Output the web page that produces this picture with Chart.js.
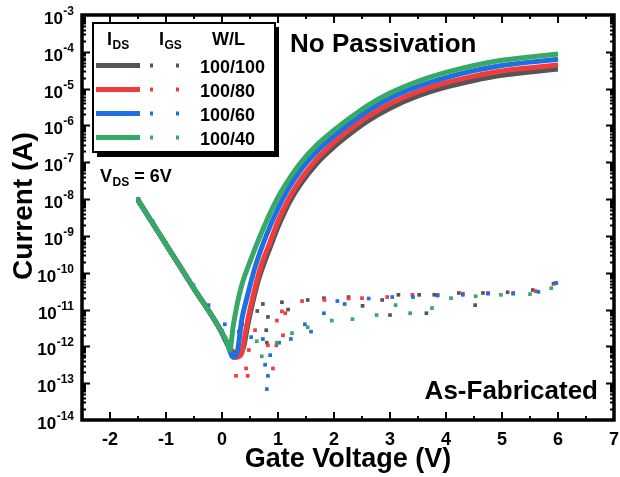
<!DOCTYPE html>
<html><head><meta charset="utf-8">
<script src="https://cdn.jsdelivr.net/npm/chart.js@4.4.1/dist/chart.umd.min.js"></script>
<style>html,body{margin:0;padding:0;background:#fff;}canvas{display:block;}</style>
</head><body>
<canvas id="c" width="620" height="477"></canvas>
<script>
// ---------- data ----------
const seriesNames = ['100/100', '100/80', '100/60', '100/40'];
const seriesColors = ['#555555', '#f23c3c', '#1d6fe3', '#38a865'];
const xTicks = [-2, -1, 0, 1, 2, 3, 4, 5, 6, 7];
const yTickExps = [-3, -4, -5, -6, -7, -8, -9, -10, -11, -12, -13, -14];

// I_DS : gate voltage (V) and log10(current / A)
const idsV_100_100 = [-1.5,-1.0,-0.5,-0.03,0.1,0.25,0.38,0.45,0.55,0.65,0.75,0.85,1.0,1.2,1.4,1.7,2.0,2.3,2.6,3.0,3.5,4.0,4.5,5.0,5.5,6.0];
const idsLog_100_100 = [-8.03,-9.23,-10.43,-11.55,-11.95,-12.2,-12.05,-11.5,-10.8,-10.2,-9.75,-9.35,-8.76,-8.1,-7.6,-7.02,-6.58,-6.21,-5.88,-5.53,-5.2,-4.96,-4.78,-4.64,-4.55,-4.47];
const idsV_100_80 = [-1.5,-1.0,-0.5,-0.03,0.1,0.25,0.35,0.42,0.5,0.6,0.7,0.85,1.0,1.2,1.4,1.7,2.0,2.3,2.6,3.0,3.5,4.0,4.5,5.0,5.5,6.0];
const idsLog_100_80 = [-8.03,-9.23,-10.43,-11.55,-11.95,-12.3,-12.2,-11.6,-11.0,-10.35,-9.8,-9.2,-8.6,-7.97,-7.47,-6.9,-6.46,-6.09,-5.76,-5.41,-5.08,-4.84,-4.66,-4.52,-4.43,-4.36];
const idsV_100_60 = [-1.5,-1.0,-0.5,-0.03,0.1,0.2,0.28,0.35,0.45,0.6,0.8,1.0,1.2,1.4,1.7,2.0,2.3,2.6,3.0,3.5,4.0,4.5,5.0,5.5,6.0];
const idsLog_100_60 = [-8.03,-9.23,-10.43,-11.55,-11.95,-12.3,-12.1,-11.3,-10.65,-9.8,-8.95,-8.25,-7.68,-7.22,-6.7,-6.29,-5.93,-5.61,-5.26,-4.94,-4.7,-4.51,-4.37,-4.28,-4.2];
const idsV_100_40 = [-1.5,-1.0,-0.5,-0.03,0.08,0.14,0.2,0.27,0.35,0.5,0.75,1.0,1.2,1.4,1.7,2.0,2.3,2.6,3.0,3.5,4.0,4.5,5.0,5.5,6.0];
const idsLog_100_40 = [-8.03,-9.23,-10.43,-11.55,-11.85,-12.1,-11.45,-10.86,-10.35,-9.7,-8.75,-7.95,-7.45,-7.02,-6.52,-6.13,-5.78,-5.46,-5.12,-4.8,-4.56,-4.37,-4.23,-4.14,-4.06];

// I_GS : gate voltage (V) and log10(current / A)
const igsV_100_100 = [-1.5,-1.25,-1.0,-0.75,-0.5,-0.25,0.0,0.2,0.3,0.63,0.73,0.79,0.8,0.82,1.07,1.18,1.53,1.82,2.26,2.51,2.86,3.0,3.15,3.52,3.65,3.79,4.23,4.52,4.66,5.1,5.55,5.92];
const igsLog_100_100 = [-8.05,-8.65,-9.25,-9.85,-10.45,-11.0,-11.6,-12.15,-11.6,-11.04,-10.85,-11.56,-11.9,-11.2,-10.8,-11.0,-10.74,-10.69,-10.66,-10.9,-10.74,-11.15,-10.6,-10.6,-11.1,-10.6,-10.55,-10.88,-10.55,-10.53,-10.47,-10.3];
const igsV_100_80 = [-1.5,-1.25,-1.0,-0.75,-0.5,-0.25,0.0,0.25,0.43,0.46,0.48,0.59,0.82,0.91,0.97,0.98,1.07,1.09,1.13,1.43,1.83,2.26,2.5,2.95,3.4,3.85,4.3,4.75,5.2,5.6,5.95];
const igsLog_100_80 = [-8.0,-8.62,-9.22,-9.82,-10.42,-11.0,-11.6,-12.8,-12.6,-12.8,-12.1,-11.56,-11.97,-12.6,-11.97,-11.3,-11.05,-11.7,-11.1,-10.77,-10.74,-10.7,-10.69,-10.66,-10.6,-10.6,-10.57,-10.55,-10.55,-10.5,-10.28];
const igsV_100_60 = [-1.49,-1.24,-1.0,-0.77,-0.51,-0.24,0.05,0.36,0.52,0.73,0.77,0.8,0.82,0.86,1.02,1.23,1.48,1.59,1.82,2.06,2.19,2.62,3.04,3.41,3.85,4.3,4.75,5.2,5.65,5.97];
const igsLog_100_60 = [-8.0,-8.6,-9.2,-9.77,-10.34,-10.88,-11.4,-11.4,-11.75,-11.8,-12.5,-13.16,-12.8,-12.24,-11.9,-11.8,-11.4,-11.6,-11.1,-10.77,-10.85,-10.7,-10.66,-10.66,-10.62,-10.6,-10.57,-10.57,-10.52,-10.28];
const igsV_100_40 = [-1.5,-1.25,-1.0,-0.75,-0.5,-0.25,0.0,0.27,0.41,0.62,0.71,0.98,1.25,1.53,1.96,2.33,2.76,3.1,3.36,3.75,4.09,4.53,4.98,5.5,5.88];
const igsLog_100_40 = [-8.02,-8.62,-9.22,-9.82,-10.42,-11.0,-11.58,-12.27,-11.7,-11.86,-12.27,-11.9,-11.64,-11.48,-11.3,-11.26,-11.15,-10.88,-11.1,-10.96,-10.69,-10.64,-10.6,-10.58,-10.42];

const idsV = [idsV_100_100, idsV_100_80, idsV_100_60, idsV_100_40];
const idsLog = [idsLog_100_100, idsLog_100_80, idsLog_100_60, idsLog_100_40];
const igsV = [igsV_100_100, igsV_100_80, igsV_100_60, igsV_100_40];
const igsLog = [igsLog_100_100, igsLog_100_80, igsLog_100_60, igsLog_100_40];

// ---------- chart ----------
const FONT = "'Liberation Sans', Arial, Helvetica, sans-serif";
const toPts = (vs, ls) => vs.map((v, i) => ({x: v, y: Math.pow(10, ls[i])}));

const datasets = [];
seriesNames.forEach((n, i) => {
  datasets.push({
    label: 'IDS ' + n, data: toPts(idsV[i], idsLog[i]),
    showLine: true, borderColor: seriesColors[i], borderWidth: 5,
    pointRadius: 0, cubicInterpolationMode: 'monotone', fill: false,
    borderCapStyle: 'butt', borderJoinStyle: 'round',
    order: 10 - i
  });
  datasets.push({
    label: 'IGS ' + n, data: toPts(igsV[i], igsLog[i]),
    showLine: false, pointStyle: 'rect', pointRadius: 2.6, pointBorderWidth: 0,
    pointBackgroundColor: seriesColors[i], backgroundColor: seriesColors[i],
    borderColor: seriesColors[i],
    order: 20 - i
  });
});

function drawSub(ctx, x, y, main, sub, size, subSize) {
  ctx.font = `bold ${size}px ${FONT}`;
  ctx.fillText(main, x, y);
  const w = ctx.measureText(main).width;
  ctx.font = `bold ${subSize}px ${FONT}`;
  ctx.fillText(sub, x + w + 0.5, y + 4);
  return x + w + 0.5 + ctx.measureText(sub).width;
}

const decor = {
  id: 'decor',
  afterDraw(chart) {
    const {ctx, chartArea: a, scales: {x, y}} = chart;
    ctx.save();
    ctx.strokeStyle = '#000'; ctx.fillStyle = '#000';
    // x ticks (inward, bottom and top)
    ctx.lineWidth = 2;
    ctx.beginPath();
    for (let k = -4; k <= 13; k++) {
      const v = k / 2;
      if (v <= -2.5 || v >= 7) continue;
      const px = Math.round(x.getPixelForValue(v));
      const len = (k % 2 === 0) ? 8 : 4;
      ctx.moveTo(px, a.bottom); ctx.lineTo(px, a.bottom - len);
      ctx.moveTo(px, a.top); ctx.lineTo(px, a.top + len);
    }
    // y ticks (inward, left and right)
    for (let e = -14; e <= -4; e++) {
      for (let m = 1; m < 10; m++) {
        const val = m * Math.pow(10, e);
        const py = Math.round(y.getPixelForValue(val)) + 0.5;
        const len = m === 1 ? 8 : 4;
        if (m === 1 && e === -14) continue;
        ctx.moveTo(a.left, py); ctx.lineTo(a.left + len, py);
        ctx.moveTo(a.right, py); ctx.lineTo(a.right - len, py);
      }
    }
    ctx.stroke();
    // frame
    ctx.lineWidth = 3.5;
    ctx.strokeRect(a.left, a.top, a.right - a.left, a.bottom - a.top);

    // y tick labels 10^n
    ctx.textAlign = 'left'; ctx.textBaseline = 'alphabetic';
    yTickExps.forEach(e => {
      const py = y.getPixelForValue(Math.pow(10, e));
      const es = String(e);
      ctx.font = `bold 12px ${FONT}`;
      const ew = ctx.measureText(es).width;
      ctx.font = `bold 17px ${FONT}`;
      const bw = ctx.measureText('10').width;
      const right = 74;
      ctx.fillText('10', right - ew - bw - 0.5, py + 9);
      ctx.font = `bold 12px ${FONT}`;
      ctx.fillText(es, right - ew, py);
    });

    // axis titles
    ctx.textAlign = 'center';
    ctx.font = `bold 27px ${FONT}`;
    ctx.fillText('Gate Voltage (V)', 348, 467);
    ctx.save();
    ctx.translate(32, 206);
    ctx.rotate(-Math.PI / 2);
    ctx.font = `bold 28px ${FONT}`;
    ctx.fillText('Current (A)', 0, 0);
    ctx.restore();

    // annotations
    ctx.textAlign = 'left';
    ctx.font = `bold 26px ${FONT}`;
    ctx.fillText('No Passivation', 290, 52);
    ctx.textAlign = 'right';
    ctx.fillText('As-Fabricated', 598, 399);
    ctx.textAlign = 'left';
    const vx = drawSub(ctx, 100, 182, 'V', 'DS', 18, 12);
    ctx.font = `bold 18px ${FONT}`;
    ctx.fillText(' = 6V', vx, 182);

    // legend box with shadow
    ctx.fillStyle = '#000';
    ctx.fillRect(97, 27, 182, 130);
    ctx.fillStyle = '#fff';
    ctx.fillRect(93, 23, 182, 129);
    ctx.lineWidth = 2; ctx.strokeStyle = '#000';
    ctx.strokeRect(93, 23, 182, 129);
    ctx.fillStyle = '#000';
    drawSub(ctx, 107, 45, 'I', 'DS', 18, 12);
    drawSub(ctx, 159, 45, 'I', 'GS', 18, 12);
    ctx.font = `bold 18px ${FONT}`;
    ctx.fillText('W/L', 212, 45);
    seriesNames.forEach((n, i) => {
      const ry = 65.5 + i * 24;
      ctx.strokeStyle = seriesColors[i]; ctx.lineWidth = 5; ctx.lineCap = 'butt';
      ctx.beginPath(); ctx.moveTo(96, ry); ctx.lineTo(140, ry); ctx.stroke();
      ctx.fillStyle = seriesColors[i];
      ctx.fillRect(150, ry - 2, 3, 4);
      ctx.fillRect(176, ry - 2, 3, 4);
      ctx.fillStyle = '#000';
      ctx.font = `bold 18px ${FONT}`;
      ctx.fillText(n, 200, ry + 7);
    });
    ctx.restore();
  }
};

new Chart(document.getElementById('c'), {
  type: 'scatter',
  data: {datasets},
  options: {
    responsive: false, animation: false, devicePixelRatio: 1,
    layout: {padding: {left: 0, right: 6, top: 15, bottom: 0}},
    plugins: {legend: {display: false}, tooltip: {enabled: false}},
    scales: {
      x: {
        type: 'linear', min: -2.5, max: 7,
        afterBuildTicks: s => { s.ticks = xTicks.map(v => ({value: v})); },
        afterFit: s => { s.height = 57; s.paddingLeft = 0; s.paddingRight = 0; },
        grid: {display: false, drawTicks: false}, border: {display: false},
        ticks: {font: {family: FONT, size: 18, weight: 'bold'}, color: '#000', padding: 9,
                maxRotation: 0, autoSkip: false, callback: v => String(v)}
      },
      y: {
        type: 'logarithmic', min: 1e-14, max: 1e-3,
        afterFit: s => { s.width = 82; s.paddingTop = 0; s.paddingBottom = 0; },
        grid: {display: false, drawTicks: false}, border: {display: false},
        ticks: {display: false}
      }
    }
  },
  plugins: [decor]
});
</script>
</body></html>
